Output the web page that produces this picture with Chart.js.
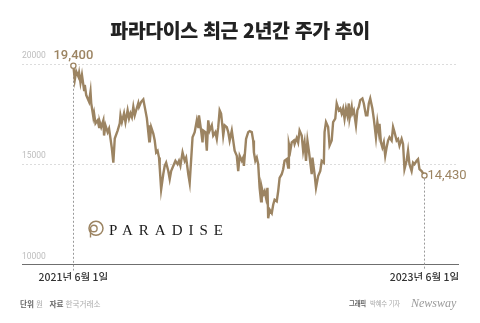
<!DOCTYPE html>
<html lang="ko">
<head>
<meta charset="utf-8">
<script src="https://cdn.jsdelivr.net/npm/chart.js@4.4.1/dist/chart.umd.min.js"></script>
<style>
  html, body { margin: 0; padding: 0; background: #fff; }
  #wrap { position: relative; width: 480px; height: 323px; overflow: hidden; background: #fff; }
  #c { position: absolute; left: 0; top: 0; }
  .title { position: absolute; left: 0; top: 18px; width: 480px; text-align: center;
    font-family: "Noto Sans CJK KR", sans-serif; font-weight: 900; font-size: 19.5px; line-height: 24px;
    letter-spacing: -0.4px; color: #222; }
  .foot { position: absolute; top: 298px; font-family: "Noto Sans CJK KR", sans-serif; font-size: 7.6px;
    line-height: 12px; color: #aaa; white-space: nowrap; }
  .foot b { color: #666; font-weight: 700; }
  .logo { position: absolute; left: 109px; top: 221px; font-family: "Liberation Serif", serif; font-size: 15px;
    letter-spacing: 6px; color: #1a1a1a; line-height: 18px; }
  .nw { position: absolute; left: 411px; top: 296px; font-family: "Liberation Serif", serif; font-style: italic;
    font-size: 12px; line-height: 14px; color: #9a9a9a; }
  svg.ic { position: absolute; left: 87px; top: 220px; }
</style>
</head>
<body>
<div id="wrap">
  <canvas id="c" width="480" height="323"></canvas>
  <div class="title">파라다이스 최근 2년간 주가 추이</div>
  <svg class="ic" width="18" height="19" viewBox="0 0 18 19">
    <circle cx="9" cy="8.3" r="7" fill="none" stroke="#9c8462" stroke-width="1.5"/>
    <circle cx="6.8" cy="8.5" r="3.3" fill="none" stroke="#9c8462" stroke-width="1.4"/>
    <line x1="3.5" y1="8.5" x2="3.5" y2="17.5" stroke="#9c8462" stroke-width="1.4"/>
  </svg>
  <div class="logo">PARADISE</div>
  <div class="foot" style="left:20px;"><b>단위</b> 원 &nbsp; <b>자료</b> 한국거래소</div>
  <div class="foot" style="left:349px; font-size:6.4px; letter-spacing:-0.2px;"><b>그래픽</b></div>
  <div class="foot" style="left:370px; font-size:6.4px; letter-spacing:-0.2px;">박혜수 기자</div>
  <div class="nw">Newsway</div>
</div>
<script>
// Trading-day index (0 = 2021-06-01, last = 2023-06-01)
const days = [0,2,4,7,8,10,12,15,16,18,22,24,25,28,29,31,34,36,37,39,42,43,45,48,50,52,54,56,58,62,65,66,68,71,73,76,78,80,82,84,86,88,91,92,95,98,100,103,105,106,107,109,112,114,116,118,120,121,123,126,128,130,133,135,137,141,143,146,148,150,153,156,158,161,163,167,
170,173,175,176,179,181,182,185,187,189,191,194,196,199,201,203,205,207,209,210,212,215,217,219,222,224,226,229,231,233,236,238,239,242,245,247,250,252,253,255,257,259,261,263,264,266,268,270,272,273,275,278,280,282,285,287,289,292,294,296,299,301,302,304,306,309,310,313,315,317,320,322,324,326,328,330,332,
334,335,338,340,343,346,348,351,352,354,357,359,362,364,367,369,372,374,376,378,380,382,384,386,387,390,391,393,396,398,400,402,405,407,410,412,414,416,419,421,424,426,428,429,431,433,435,437,439,441,443,446,448,450,453,455,457,460,462,464,467,469,471,474,476,478,481,483,485,488,492];

// Closing price (원)
const prices = [19910,19210,19630,19370,19560,19060,19460,18700,18950,18450,18110,18620,18050,17350,17540,17040,17190,16850,17100,16850,17190,16430,16940,16600,16780,16280,15770,15080,16280,16680,17040,17440,17100,17540,17100,17690,17290,17540,17350,17860,17440,17690,18050,17860,18110,18230,17860,17290,16600,16940,16090,16850,16530,16180,15590,15670,15330,14830,13740,14510,14920,15080,14660,14260,14660,15000,15170,15000,15170,14920,15590,15170,15330,14510,14070,16340,
16600,17190,16850,17440,16680,16090,16680,16600,15670,17190,16680,16940,16430,16600,16260,16850,17690,17530,16850,16430,16940,16850,16600,16180,16680,16180,15670,15420,14660,15420,15170,15330,14920,16260,16600,16650,16600,16180,15590,15170,15330,15000,13820,13150,13820,13490,13650,13310,13820,12300,12730,12560,12980,13230,13150,13650,14320,14500,14750,15170,15250,14830,16010,15670,16090,16180,16010,16310,16090,16680,16430,15670,16090,15170,16180,15670,15080,
14500,15330,14500,13820,14410,14660,15170,15080,16600,17100,16850,15930,16180,17100,17270,18030,17690,17780,17530,17780,17270,17780,17440,18030,17270,17860,17530,17690,16940,17690,17860,18200,18280,18030,17440,17440,18030,18280,17780,17270,16340,17100,16600,17020,16090,15840,16090,15420,15840,16180,16340,16180,16850,16600,16180,16260,15930,16260,16010,14750,15170,15670,15000,14660,15080,15000,15170,15250,14750,14660,14430];

const yTicks = [10000, 15000, 20000];
const dateTicks = [0, 492];
const dateLabels = ['2021년 6월 1일', '2023년 6월 1일'];
const startLabel = '19,400';
const endLabel = '14,430';

const GOLD = '#9c8462';
const n = Math.min(days.length, prices.length);
const points = [];
for (let i = 0; i < n; i++) points.push({ x: days[i], y: prices[i] });
const last = n - 1;

const annot = {
  id: 'annot',
  beforeDatasetsDraw(chart) {
    const ctx = chart.ctx, meta = chart.getDatasetMeta(0);
    const bottom = chart.chartArea.bottom;
    ctx.save();
    ctx.strokeStyle = '#9a9a9a';
    ctx.lineWidth = 1;
    ctx.setLineDash([2, 2]);
    [0, last].forEach(i => {
      const p = meta.data[i];
      const x = Math.round(p.x) + 0.5;
      ctx.beginPath();
      ctx.moveTo(x, p.y + 3);
      ctx.lineTo(x, bottom + 6);
      ctx.stroke();
    });
    ctx.restore();
  },
  afterDatasetsDraw(chart) {
    const ctx = chart.ctx, meta = chart.getDatasetMeta(0);
    const p0 = meta.data[0], p1 = meta.data[last];
    ctx.save();
    ctx.fillStyle = GOLD;
    ctx.font = '500 13px Roboto, "Noto Sans", sans-serif';
    ctx.textAlign = 'center';
    ctx.textBaseline = 'middle';
    ctx.fillText(startLabel, p0.x, p0.y - 10);
    ctx.font = '400 13px Roboto, "Noto Sans", sans-serif';
    ctx.textAlign = 'left';
    ctx.fillText(endLabel, p1.x + 3, p1.y);
    ctx.restore();
  }
};

new Chart(document.getElementById('c'), {
  type: 'line',
  data: {
    datasets: [{
      data: points,
      borderColor: GOLD,
      borderWidth: 2.4,
      tension: 0,
      clip: false,
      pointRadius: c => (c.dataIndex === 0 || c.dataIndex === last) ? 2.6 : 0,
      pointBackgroundColor: '#fff',
      pointBorderColor: GOLD,
      pointBorderWidth: 1.3
    }]
  },
  options: {
    responsive: false,
    animation: false,
    events: [],
    layout: { padding: { left: 22, right: 22, top: 64, bottom: 42 } },
    plugins: { legend: { display: false }, tooltip: { enabled: false } },
    scales: {
      x: {
        type: 'linear',
        min: -72,
        max: 539,
        grid: { display: false },
        border: { display: true, color: '#6f6f6f', width: 1 },
        afterBuildTicks: s => { s.ticks = dateTicks.map(v => ({ value: v })); },
        ticks: {
          autoSkip: false, maxRotation: 0, padding: -2, color: '#333',
          font: { family: '"Noto Sans CJK KR", sans-serif', size: 10.5, weight: 500 },
          callback: v => dateLabels[dateTicks.indexOf(v)]
        }
      },
      y: {
        min: 10000,
        max: 20000,
        afterBuildTicks: s => { s.ticks = yTicks.map(v => ({ value: v })); },
        grid: { color: '#dcdcdc', lineWidth: 1, drawTicks: false },
        border: { display: false, dash: [2, 2] },
        ticks: {
          mirror: true, padding: 0, labelOffset: -8, color: '#bdbdbd',
          font: { family: 'Roboto, sans-serif', size: 8.5 },
          callback: v => String(v)
        }
      }
    }
  },
  plugins: [annot]
});
</script>
</body>
</html>
